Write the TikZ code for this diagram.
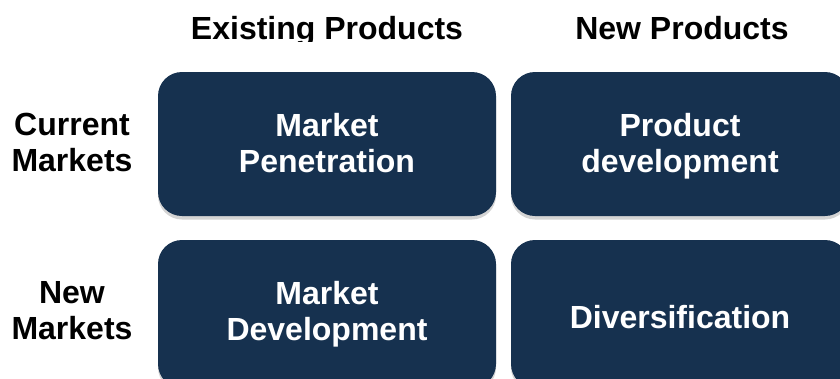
\documentclass[tikz,border=0pt]{standalone}
\usepackage{fontspec}
\setmainfont{Liberation Sans}
\usetikzlibrary{shadows}
\definecolor{navy}{HTML}{16314F}
\definecolor{shade}{HTML}{D4D4D4}
\newcommand\twostrut{\rule[-8pt]{0pt}{36pt}}
\newcommand\lowstrut{\rule[-10pt]{0pt}{36pt}}
\newcommand\onestrut{\rule[-2pt]{0pt}{32pt}}
\tikzset{
  cell/.style={draw=none, fill=navy, text=white, rounded corners=24pt,
    minimum width=338pt, inner sep=0pt, align=center,
    font=\fontsize{32}{36}\selectfont\bfseries,
    drop shadow={shadow xshift=0pt, shadow yshift=-3.5pt, fill=shade, opacity=1}},
  label/.style={inner sep=0pt, align=center, text=black,
    font=\fontsize{32}{36}\selectfont\bfseries}
}
\begin{document}
\begin{tikzpicture}[x=1pt,y=-1pt]
\useasboundingbox (0,0) rectangle (840,378);
\clip (0,0) rectangle (840,378);
\fill[white] (0,0) rectangle (840,378);
\begin{scope}
  \clip (0,0) rectangle (840,41);
  \node[label, anchor=base] (hdrA) at (327,39) {Existing Products};
\end{scope}
\node[label, anchor=base] (hdrB) at (682,39) {New Products};
\node[label] (rowA) at (72,142) {Current\\Markets};
\node[label] (rowB) at (72,311) {New\\Markets};
\node[cell, minimum height=144pt] (boxMP) at (327,144) {\twostrut Market\\\twostrut Penetration};
\node[cell, minimum height=144pt] (boxPD) at (680,144) {\twostrut Product\\\twostrut development};
\node[cell, minimum height=148pt] (boxMD) at (327,314) {\lowstrut Market\\\lowstrut Development};
\node[cell, minimum height=148pt] (boxDV) at (680,314) {\onestrut Diversification};
\end{tikzpicture}
\end{document}
